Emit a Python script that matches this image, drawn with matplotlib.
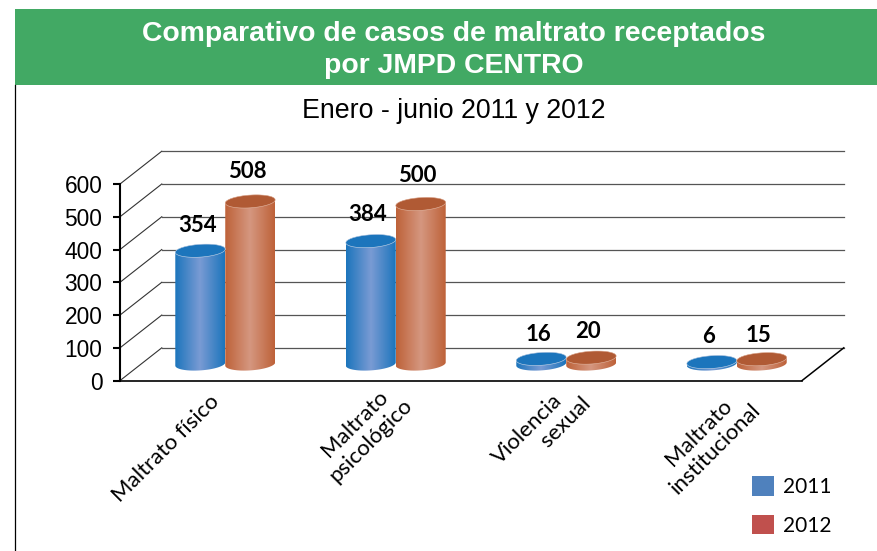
import numpy as np
import matplotlib
matplotlib.use('Agg')
import matplotlib.pyplot as plt
from matplotlib.colors import LinearSegmentedColormap
from matplotlib.patches import Patch, Polygon, Rectangle
from matplotlib.transforms import ScaledTranslation

categories = ['Maltrato físico', 'Maltrato\npsicológico',
              'Violencia\n        sexual', 'Maltrato\ninstitucional']
label_align = ['left', 'center', 'left', 'center']
values_2011 = [354, 384, 16, 6]
values_2012 = [508, 500, 20, 15]
y_ticks = [0, 100, 200, 300, 400, 500, 600]

W, H = 877, 551
fig = plt.figure(figsize=(W / 100, H / 100), dpi=100, facecolor='white')
plt.rcParams['font.family'] = ['Liberation Sans', 'DejaVu Sans']


def box(x0, y_top, x1, y_bottom):
    # pixels from the top left corner -> figure fractions
    return [x0 / W, 1 - y_bottom / H, (x1 - x0) / W, (y_bottom - y_top) / H]


def nudge(artist, dx, dy):
    # shift a text by pixels, y up
    artist.set_transform(artist.get_transform() + ScaledTranslation(dx / 100, dy / 100, fig.dpi_scale_trans))


# header band and left border
fig.add_artist(Rectangle((15 / W, 1 - 85 / H), (W - 15) / W, 76 / H,
                         transform=fig.transFigure, fc='#42A964', ec='none'))
fig.add_artist(plt.Line2D([15 / W, 15 / W], [0, 1 - 85 / H],
                          transform=fig.transFigure, color='black', lw=0.9))
fig.text(453.5 / W, 1 - 50 / H, 'Comparativo de casos de maltrato receptados\npor JMPD CENTRO',
         color='white', fontsize=20.4, fontweight='bold', ha='center', va='center',
         linespacing=1.3, family='Liberation Sans')
fig.text(454 / W, 1 - 111.5 / H, 'Enero - junio 2011 y 2012', color='black', fontsize=19.3,
         ha='center', va='center', family='Liberation Sans')

# front plane of the 3d box
ax = fig.add_axes(box(120, 184, 802, 380.6))
ax.set_xlim(-0.5, 3.5)
ax.set_ylim(0, 600)
ax.patch.set_alpha(0)
for s in ['top', 'right']:
    ax.spines[s].set_visible(False)
ax.spines['left'].set_linewidth(1.5)
ax.spines['bottom'].set_linewidth(1.2)

DX, DY = 0.245, 100  # depth of the box in data units
x_l, x_r = -0.5, 3.5
for v in y_ticks:
    ax.plot([x_l, x_l + DX], [v, v + DY], color='#333333', lw=0.8, clip_on=False, zorder=1)
    ax.plot([x_l + DX, x_r + DX], [v + DY, v + DY], color='#555555', lw=0.9, clip_on=False, zorder=1)
ax.plot([x_r, x_r + DX], [0, DY], color='black', lw=1.1, clip_on=False, zorder=1)

ax.set_yticks(y_ticks)
ax.tick_params(axis='y', length=5, width=1.5, pad=7, labelsize=16.4)
for lab in ax.get_yticklabels():
    nudge(lab, -1, 0)
ax.set_xticks(range(len(categories)))
ax.set_xticklabels(categories, rotation=45, ha='right', va='top', rotation_mode='anchor',
                   fontsize=16, family='Lato')
ax.tick_params(axis='x', length=0, pad=0)
label_offset = [(4, -11), (10, 2), (18, 3), (17, -3)]
for lab, off, ma in zip(ax.get_xticklabels(), label_offset, label_align):
    lab.set_multialignment(ma)
    nudge(lab, off[0], off[1])

# cylinders sit in the middle of the box depth, so they get their own axes
bx = fig.add_axes(box(140, 172, 822, 364))
bx.set_xlim(-0.5, 3.5)
bx.set_ylim(0, 600)
bx.axis('off')

BAR_W = 0.293
RY = 20      # ellipse half height, value units
TILT = 5     # rise of the ellipse from centre to right end
blue_map = LinearSegmentedColormap.from_list('b', ['#1C75BC', '#7A9BD4', '#1C75BC'])
red_map = LinearSegmentedColormap.from_list('r', ['#BE6239', '#D59780', '#BE6239'])
grad = np.linspace(0, 1, 128).reshape(1, -1)
val_dy = [[-2, 0, -3, -1], [3, 1, -1, -3]]


def cylinder(xc, val, cmap, cap):
    t = np.linspace(0, np.pi, 40)
    ex = np.cos(t)
    ey = np.sin(t)
    xs = xc + ex * BAR_W / 2
    # lower half at the base, upper half at the top; both sheared
    low = np.column_stack([xs, -RY * ey + TILT * ex])
    top = np.column_stack([xs[::-1], val + RY * ey[::-1] + TILT * ex[::-1]])
    body = Polygon(np.vstack([low, top]), closed=True, fc='none', ec='none', clip_on=False)
    bx.add_patch(body)
    im = bx.imshow(grad, cmap=cmap, aspect='auto', zorder=2,
                   extent=(xc - BAR_W / 2, xc + BAR_W / 2, -RY - TILT, val + RY + TILT))
    im.set_clip_box(fig.bbox)
    im.set_clip_path(body)
    tt = np.linspace(0, 2 * np.pi, 80)
    bx.fill(xc + np.cos(tt) * BAR_W / 2, val + RY * np.sin(tt) + TILT * np.cos(tt),
            fc=cap, ec='#C9D6E8' if cap == '#1C75BC' else '#E3B9A5', lw=0.4, zorder=3, clip_on=False)


for i, (a, b) in enumerate(zip(values_2011, values_2012)):
    cylinder(i - BAR_W / 2, a, blue_map, '#1C75BC')
    cylinder(i + BAR_W / 2, b, red_map, '#B05A34')
    for k, (xc, val) in enumerate([(i - BAR_W / 2, a), (i + BAR_W / 2, b)]):
        bx.annotate(str(val), (xc, val), xytext=(-3, 27 + val_dy[k][i]), textcoords='offset pixels',
                    ha='center', va='center', fontsize=16, fontweight='bold',
                    family='Lato', color='black', annotation_clip=False, zorder=5)
bx.set_xlim(-0.5, 3.5)
bx.set_ylim(0, 600)

leg = fig.legend(handles=[Patch(fc='#4F81BD', label='2011'), Patch(fc='#C0504D', label='2012')],
                 loc='upper left', bbox_to_anchor=(745.5 / W, 1 - 470 / H), frameon=False,
                 prop={'family': 'Lato', 'size': 15}, handlelength=1.05, handleheight=1.05,
                 handletextpad=0.45, labelspacing=0.85, borderpad=0.3, borderaxespad=0)

fig.savefig('out.png', dpi=100)
